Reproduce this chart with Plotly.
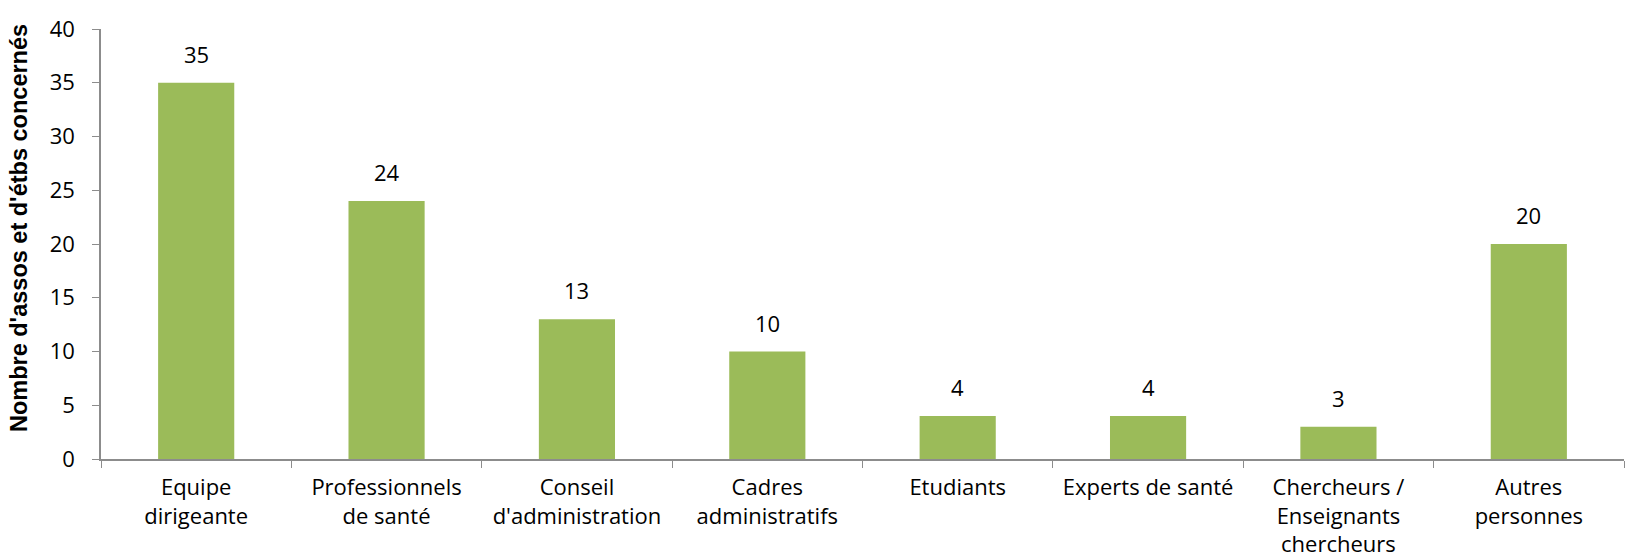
import plotly.graph_objects as go

categories = ["Equipe<br>dirigeante", "Professionnels<br>de santé", "Conseil<br>d'administration",
              "Cadres<br>administratifs", "Etudiants", "Experts de santé",
              "Chercheurs /<br>Enseignants<br>chercheurs", "Autres<br>personnes"]
values = [35, 24, 13, 10, 4, 4, 3, 20]
y_ticks = [0, 5, 10, 15, 20, 25, 30, 35, 40]
y_title = "Nombre d'assos et d'étbs concernés"

FONT = "Open Sans"
AXIS = "#8c8c8c"

fig = go.Figure(go.Bar(x=categories, y=values, marker_color="#9BBB59", marker_line_width=0))

for c, v in zip(categories, values):
    fig.add_annotation(x=c, y=v, text=str(v), showarrow=False, yanchor="bottom", yshift=12,
                       font=dict(family=FONT, size=22, color="#000"))

fig.add_annotation(xref="paper", yref="paper", x=0, xshift=-82, y=0.537, text=y_title, textangle=-90,
                   showarrow=False, xanchor="center", yanchor="middle",
                   font=dict(family="Liberation Sans", size=23.5, color="#000", weight="bold"))

fig.update_layout(
    width=1626, height=559,
    margin=dict(l=101, r=2, t=29, b=100),
    paper_bgcolor="white", plot_bgcolor="white",
    bargap=0.6, showlegend=False,
    font=dict(family=FONT, color="#000"),
)
fig.update_xaxes(showline=True, linecolor=AXIS, linewidth=1.5, ticks="outside", tickson="boundaries",
                 ticklen=7, tickcolor=AXIS, tickfont=dict(size=22, family=FONT, color="#000"),
                 showgrid=False, automargin=False, ticklabelstandoff=8)
fig.update_yaxes(range=[0, 40], tickvals=y_ticks, showline=True, linecolor=AXIS, linewidth=1.5,
                 ticks="outside", ticklen=7, tickcolor=AXIS, showgrid=False, zeroline=False,
                 tickfont=dict(size=22, family=FONT, color="#000"), automargin=False,
                 ticklabelstandoff=13)

fig.write_html("out.html", config={"displayModeBar": False},
               post_script="document.body.style.margin='0';document.body.style.overflow='hidden';")
